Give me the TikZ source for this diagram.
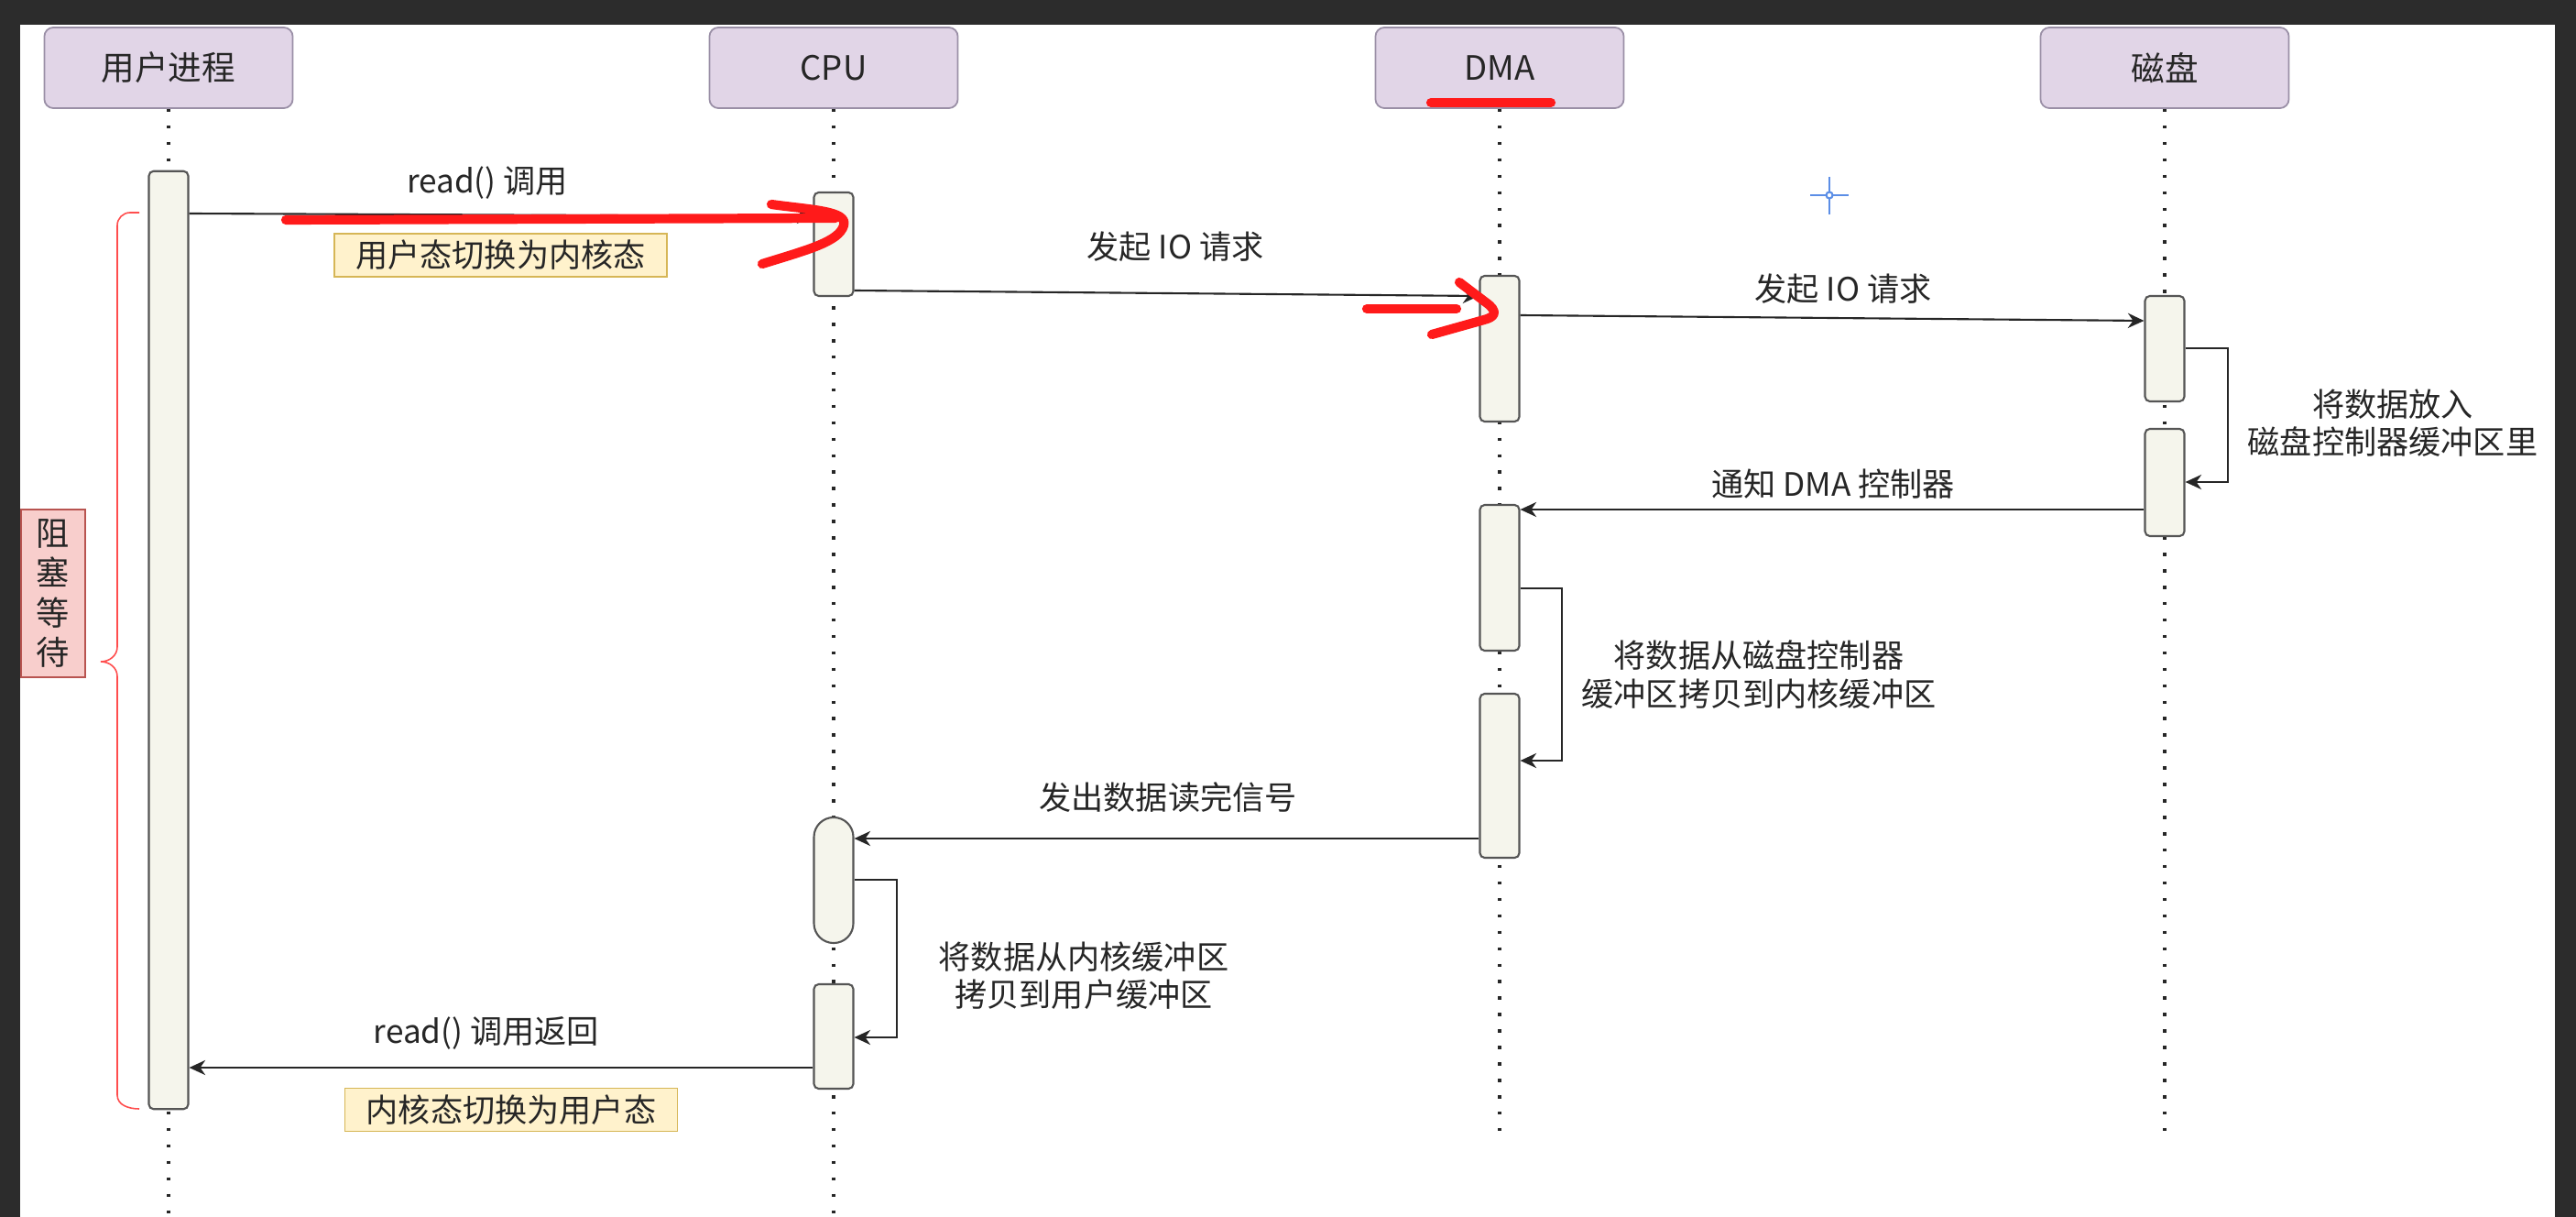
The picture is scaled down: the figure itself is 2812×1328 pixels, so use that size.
\documentclass[tikz,border=0pt]{standalone}
\usepackage{fontspec}
\setmainfont{Noto Sans CJK SC}
\usetikzlibrary{arrows.meta,calc}

\definecolor{frame}{HTML}{2C2C2C}
\definecolor{headfill}{HTML}{E1D5E7}
\definecolor{headdraw}{HTML}{9A8FA6}
\definecolor{actfill}{HTML}{F5F5EC}
\definecolor{actdraw}{HTML}{555555}
\definecolor{notefill}{HTML}{FFF2CC}
\definecolor{notedraw}{HTML}{D6B656}
\definecolor{waitfill}{HTML}{F8CECC}
\definecolor{waitdraw}{HTML}{B85450}
\definecolor{pen}{HTML}{FF1A1A}
\definecolor{bracecol}{HTML}{FF4D4D}
\definecolor{cursorcol}{HTML}{5B8EE6}
\definecolor{ink}{HTML}{262626}

\tikzset{
  head/.style={draw=headdraw, fill=headfill, rounded corners=2.8pt, line width=0.5pt,
    minimum width=2.71cm, minimum height=0.88cm, inner sep=0pt, text=ink,
    font=\fontsize{10.4pt}{12pt}\selectfont},
  act/.style={draw=actdraw, fill=actfill, line width=0.6pt, rounded corners=1.5pt,
    minimum width=0.43cm, inner sep=0pt},
  life/.style={draw=ink, line width=1pt, dash pattern=on 1pt off 4.1pt},
  msg/.style={draw=ink, line width=0.6pt, -{Stealth[length=5pt,width=4.6pt,inset=1.6pt]}},
  note/.style={draw=notedraw, fill=notefill, line width=0.5pt, inner sep=0pt,
    minimum width=3.63cm, minimum height=0.47cm, text=ink},
  lbl/.style={text=ink, align=center, inner sep=0pt},
  redpen/.style={draw=pen, line width=2.9pt, line cap=round, line join=round},
}

\begin{document}
\begin{tikzpicture}[x=0.01cm, y=-0.01cm, font=\fontsize{10pt}{11.7pt}\selectfont]
\useasboundingbox (0,0) rectangle (2812,1328);

% page frame and canvas
\fill[frame] (0,0) rectangle (2812,1328);
\fill[white] (22,27) rectangle (2789,1328);

% participants
\node[head] (h1) at (184,74) {用户进程};
\node[head] (h2) at (910,74) {CPU};
\node[head] (h3) at (1637,74) {DMA};
\node[head] (h4) at (2363,74) {磁盘};

% lifeline ends
\coordinate (e1) at (184,1328);
\coordinate (e2) at (910,1328);
\coordinate (e3) at (1637,1237);
\coordinate (e4) at (2363,1237);

\draw[life] (h1.south) -- (e1);
\draw[life] (h2.south) -- (e2);
\draw[life] (h3.south) -- (e3);
\draw[life] (h4.south) -- (e4);

% activation bars
\node[act, minimum height=10.23cm] (a1) at (184,698.5) {};
\node[act, minimum height=1.13cm] (c1) at (910,266.5) {};
\node[act, minimum height=1.37cm, rounded corners=6.1pt] (c2) at (910,960.5) {};
\node[act, minimum height=1.14cm] (c3) at (910,1131) {};
\node[act, minimum height=1.59cm] (d1) at (1637,380.5) {};
\node[act, minimum height=1.59cm] (d2) at (1637,630.5) {};
\node[act, minimum height=1.79cm] (d3) at (1637,846.5) {};
\node[act, minimum height=1.15cm] (k1) at (2363,380.5) {};
\node[act, minimum height=1.17cm] (k2) at (2363,526.5) {};

% message levels
\coordinate (y1a) at (0,233);  \coordinate (y1b) at (0,236);
\coordinate (y2a) at (0,317);  \coordinate (y2b) at (0,323);
\coordinate (y3a) at (0,344);  \coordinate (y3b) at (0,350);
\coordinate (y4a) at (0,380);  \coordinate (y4b) at (0,526);
\coordinate (y5)  at (0,556);
\coordinate (y6a) at (0,642);  \coordinate (y6b) at (0,830);
\coordinate (y7)  at (0,915);
\coordinate (y8a) at (0,960);  \coordinate (y8b) at (0,1132);
\coordinate (y9)  at (0,1165);

% messages
\draw[msg] (a1.east |- y1a) -- (c1.west |- y1b);
\draw[msg] (c1.east |- y2a) -- (d1.west |- y2b);
\draw[msg] (d1.east |- y3a) -- (k1.west |- y3b);
\draw[msg] (k1.east |- y4a) -- ++(46,0) |- (k2.east |- y4b);
\draw[msg] (k2.west |- y5) -- (d2.east |- y5);
\draw[msg] (d2.east |- y6a) -- ++(45,0) |- (d3.east |- y6b);
\draw[msg] (d3.west |- y7) -- (c2.east |- y7);
\draw[msg] (c2.east |- y8a) -- ++(46,0) |- (c3.east |- y8b);
\draw[msg] (c3.west |- y9) -- (a1.east |- y9);

% message labels
\node[lbl] (t1) at (532,200) {read() 调用};
\node[note] (n1) at (546.5,278.5) {用户态切换为内核态};
\node[lbl] (t2) at (1283,269) {发起 IO 请求};
\node[lbl] (t3) at (2012,315) {发起 IO 请求};
\node[lbl] (t4) at (2612,462) {将数据放入\\磁盘控制器缓冲区里};
\node[lbl] (t5) at (2001,528) {通知 DMA 控制器};
\node[lbl] (t6) at (1920,736) {将数据从磁盘控制器\\缓冲区拷贝到内核缓冲区};
\node[lbl] (t7) at (1275,870) {发出数据读完信号};
\node[lbl] (t8) at (1183,1065) {将数据从内核缓冲区\\拷贝到用户缓冲区};
\node[lbl] (t9) at (531,1127) {read() 调用返回};
\node[note] (n2) at (558,1211) {内核态切换为用户态};

% blocking span
\draw[bracecol, line width=0.45pt]
  (152,232) -- (142,232) to[out=180,in=90] (128,246) -- (128,706)
  to[out=-90,in=0] (110,722) to[out=0,in=90] (128,738) -- (128,1195)
  to[out=-90,in=180] (152,1210);
\node[draw=waitdraw, fill=waitfill, line width=0.5pt, inner sep=0pt,
      minimum width=0.70cm, minimum height=1.83cm, align=center, text=ink,
      font=\fontsize{10.3pt}{12.3pt}\selectfont] (w) at (58,647.5) {阻\\塞\\等\\待};

% pen annotations
\draw[redpen] (312,240) -- (912,238);
\draw[redpen] (842,223) .. controls (885,229) and (926,230) .. (921,246)
  .. controls (916,264) and (880,273) .. (832,288);
\draw[redpen] (1492,337) -- (1590,337);
\draw[redpen] (1593,308) -- (1622,330) .. controls (1636,340) and (1632,346) .. (1620,349) -- (1563,365);
\draw[redpen] (1562,112) -- (1693,112);

% pointer crosshair
\draw[cursorcol, line width=0.45pt] (1976,213) -- (2018,213) (1997,193) -- (1997,234);
\draw[cursorcol, fill=white, line width=0.6pt] (1997,213) circle[radius=1pt];

\end{tikzpicture}
\end{document}
